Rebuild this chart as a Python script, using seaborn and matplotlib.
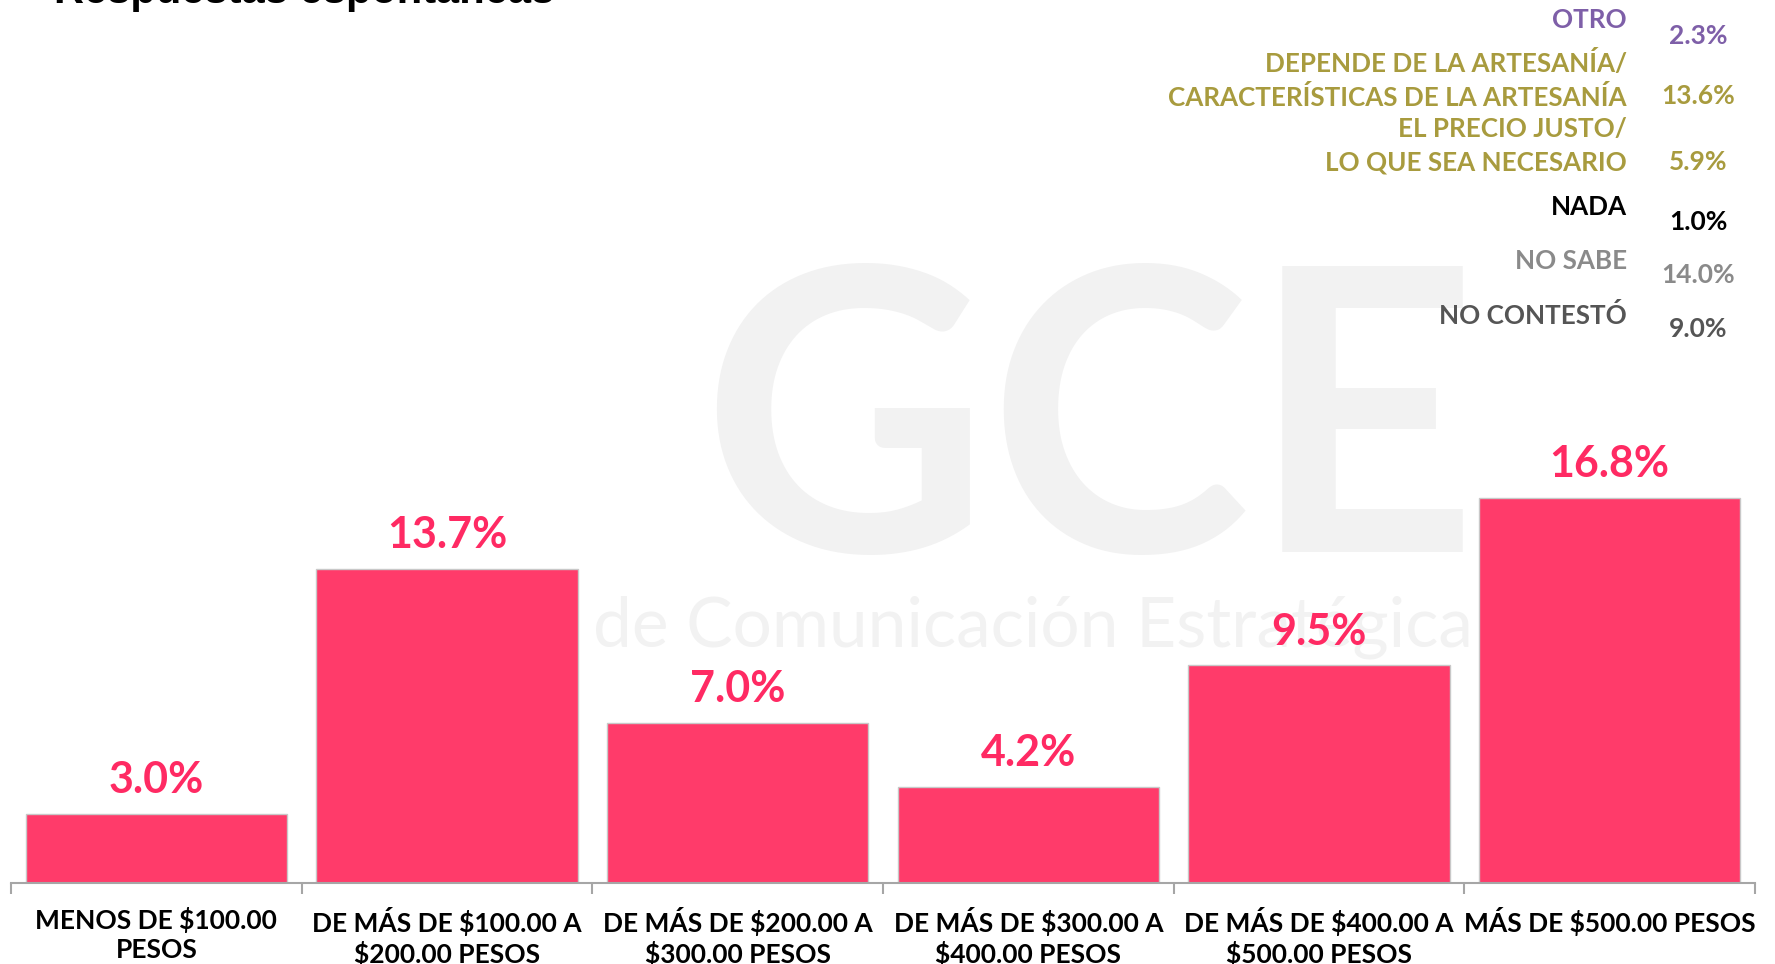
import matplotlib
matplotlib.use("Agg")
import matplotlib.pyplot as plt
import seaborn as sns
import pandas as pd

# -----------------------------
# Data
# -----------------------------
categories = [
    "MENOS DE $100.00\nPESOS",
    "DE MÁS DE $100.00 A\n$200.00 PESOS",
    "DE MÁS DE $200.00 A\n$300.00 PESOS",
    "DE MÁS DE $300.00 A\n$400.00 PESOS",
    "DE MÁS DE $400.00 A\n$500.00 PESOS",
    "MÁS DE $500.00 PESOS",
]
values = [3.0, 13.7, 7.0, 4.2, 9.5, 16.8]

other_labels = [
    "OTRO",
    "DEPENDE DE LA ARTESANÍA/\nCARACTERÍSTICAS DE LA ARTESANÍA",
    "EL PRECIO JUSTO/\nLO QUE SEA NECESARIO",
    "NADA",
    "NO SABE",
    "NO CONTESTÓ",
]
other_values = [2.3, 13.6, 5.9, 1.0, 14.0, 9.0]

title = "Respuestas espontáneas"

# -----------------------------
# Style
# -----------------------------
BAR = "#FF3B6A"
LABEL = "#FF2A63"
WATERMARK = "#F2F2F2"
other_colors = ["#7E5FA8", "#A89B3E", "#A89B3E", "#000000", "#8A8A8A", "#555555"]

sns.set_theme(style="white")
plt.rcParams["font.family"] = ["Lato", "DejaVu Sans"]
plt.rcParams["text.parse_math"] = False

W, H = 1775, 964
fig = plt.figure(figsize=(W / 100, H / 100), dpi=100)

# axes placed in pixel terms: baseline at y=883, 22.9 px per percent
ymax = 20
ax = fig.add_axes([11 / W, 1 - 883 / H, (1755 - 11) / W, ymax * 22.9 / H])
ax.set_facecolor("none")

# faint watermark, kept behind the bars
ax.text(0.614, 0.545, "GCE", transform=fig.transFigure, fontsize=285,
        fontweight="bold", color=WATERMARK, ha="center", va="center", zorder=0)
ax.text(0.582, 0.349, "de Comunicación Estratégica", transform=fig.transFigure,
        fontsize=50, color=WATERMARK, ha="center", va="center", zorder=0)

df = pd.DataFrame({"cat": categories, "val": values})
sns.barplot(data=df, x="cat", y="val", color=BAR, saturation=1, width=0.9,
            edgecolor="#C8C8C8", linewidth=1, ax=ax, zorder=2)

for i, v in enumerate(values):
    ax.annotate(f"{v:.1f}%", (i, v), xytext=(0, 15), textcoords="offset points",
                ha="center", va="baseline", fontsize=31, fontweight="bold",
                color=LABEL, zorder=3)

ax.set_xlim(-0.5, len(categories) - 0.5)
ax.set_ylim(0, ymax)
ax.set_xlabel("")
ax.set_ylabel("")
ax.set_yticks([])
for s in ["top", "right", "left"]:
    ax.spines[s].set_visible(False)
ax.spines["bottom"].set_color("#A6A6A6")
ax.spines["bottom"].set_linewidth(1.5)

ax.set_xticks(range(len(categories)))
ax.set_xticklabels(categories, fontsize=19, fontweight="bold", color="black",
                   multialignment="center", linespacing=1.25)
ax.set_xticks([i - 0.5 for i in range(len(categories) + 1)], minor=True)
ax.tick_params(axis="x", which="major", length=0, pad=17)
ax.tick_params(axis="x", which="minor", length=8, width=1.5, color="#A6A6A6",
               direction="out", bottom=True)

# right-hand block of other answers
label_y = [20, 80, 146, 207, 261, 315]
value_y = [36, 96, 162, 222, 275, 329]
for lab, val, col, ly, vy in zip(other_labels, other_values, other_colors,
                                  label_y, value_y):
    fig.text(1627 / W, 1 - ly / H, lab, ha="right", va="center", fontsize=18.7,
             fontweight="bold", color=col, linespacing=1.45,
             multialignment="right")
    fig.text(1698 / W, 1 - vy / H, f"{val:.1f}%", ha="center", va="center",
             fontsize=19, fontweight="bold", color=col)

# title clipped by the top edge, as in the source slide
fig.text(54 / W, 1 - 3 / H, title, ha="left", va="baseline", fontsize=30,
         fontweight="bold", color="black", family=["Liberation Sans", "DejaVu Sans"])

fig.savefig("out.png", dpi=100)
